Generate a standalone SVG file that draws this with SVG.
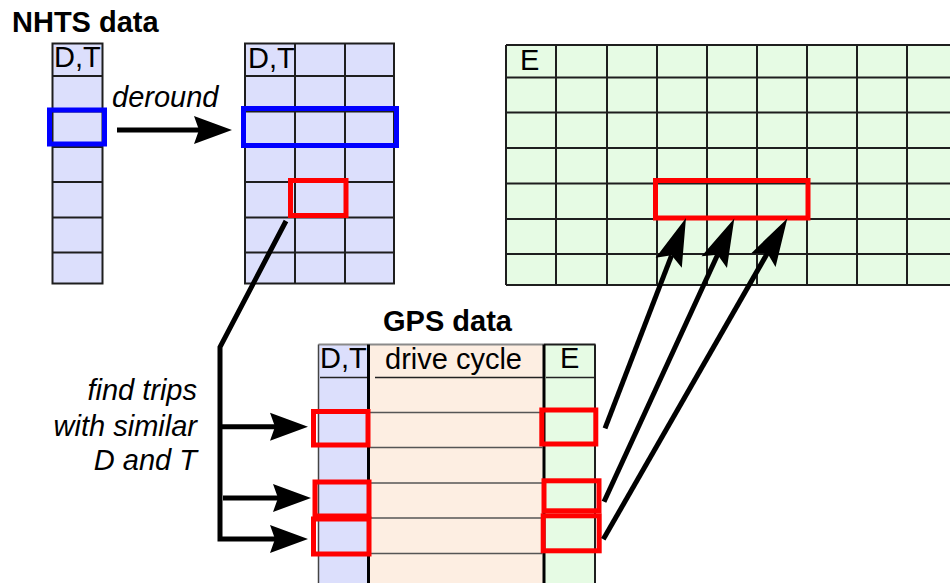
<svg xmlns="http://www.w3.org/2000/svg" width="950" height="583" viewBox="0 0 950 583">
<defs>
<style>
.t{font-family:"Liberation Sans",Arial,sans-serif;font-size:29px;fill:#000}
.b{font-weight:bold}
.i{font-style:italic}
.grid{stroke:#1e1e1e;stroke-width:2;fill:none}
.blue{fill:#dcdffc}
.green{fill:#e6fbe4}
.peach{fill:#fdeee2}
.hb{fill:none;stroke:#0000ff;stroke-width:5}
.hr{fill:none;stroke:#ff0000;stroke-width:5}
.conn{fill:none;stroke:#000;stroke-width:5}
.row{stroke:#555;stroke-width:1.5}
</style>
<marker id="ah" markerUnits="userSpaceOnUse" viewBox="0 -15 40 30" markerWidth="40" markerHeight="30" refX="5" refY="0" orient="auto" overflow="visible">
<path d="M0,-14 L38,0 L0,14 L5,0 Z" fill="#000"/>
</marker>
<marker id="ahl" markerUnits="userSpaceOnUse" viewBox="0 -15 50 30" markerWidth="50" markerHeight="30" refX="8" refY="0" orient="auto" overflow="visible">
<path d="M0,-14 L48,0 L0,14 L8,0 Z" fill="#000"/>
</marker>
</defs>
<rect width="950" height="583" fill="#fff"/>

<g id="nhts-title"><text class="t b" x="12" y="32">NHTS data</text></g>

<g id="nhts-column">
<rect class="blue" x="52.5" y="43.5" width="50" height="240"/>
<g class="grid">
<rect x="52.5" y="43.5" width="50" height="240"/>
<path d="M52.5,76H102.5M52.5,111.5H102.5M52.5,147H102.5M52.5,182H102.5M52.5,217.5H102.5M52.5,252.5H102.5"/>
</g>
<text class="t" x="54" y="67">D,T</text>
<rect class="hb" x="49.5" y="110" width="55" height="34"/>
</g>

<g id="nhts-derounded">
<rect class="blue" x="245" y="43.5" width="149" height="240"/>
<g class="grid">
<rect x="245" y="43.5" width="149" height="240"/>
<path d="M295,43.5V283.5M345,43.5V283.5"/>
<path d="M245,76H394M245,111.5H394M245,147H394M245,182H394M245,217.5H394M245,252.5H394"/>
</g>
<text class="t" x="248" y="68">D,T</text>
<rect class="hb" x="243.5" y="108.5" width="153" height="37"/>
<rect class="hr" x="290.5" y="180.5" width="55.5" height="35"/>
</g>

<g id="energy-grid">
<rect class="green" x="506" y="45" width="460" height="240"/>
<g class="grid">
<path d="M506,45H966M506,285H966M506,45V285"/>
<path d="M556,45V285M607,45V285M657,45V285M707,45V285M757,45V285M807,45V285M857,45V285M907,45V285"/>
<path d="M506,77.5H966M506,112.5H966M506,148H966M506,183.5H966M506,219H966M506,254H966"/>
</g>
<text class="t" x="520" y="70">E</text>
<rect class="hr" x="655.5" y="180.5" width="152.5" height="37.5"/>
</g>

<g id="gps-title"><text class="t b" x="383" y="331">GPS data</text></g>

<g id="gps-table">
<rect class="blue" x="318.5" y="344.5" width="50" height="240"/>
<rect class="peach" x="368.5" y="344.5" width="175.5" height="240"/>
<rect class="green" x="544" y="344.5" width="51" height="240"/>
<path d="M318.5,344.5H544" stroke="#8a8a8a" stroke-width="2"/>
<path d="M318.5,344.5V583" stroke="#444" stroke-width="1.5"/>
<path d="M544,344.5H595.5" stroke="#1e1e1e" stroke-width="2"/>
<path d="M368.5,344.5V583M544,344.5V583" stroke="#000" stroke-width="3"/>
<path d="M595,344.5V583" stroke="#1e1e1e" stroke-width="2"/>
<path d="M320,377.5H367M375,377.5H543M546,377.5H594" stroke="#222" stroke-width="1.5"/>
<path class="row" d="M370,412.5H543M370,447.5H543M370,483H543M370,518H543M370,553.5H543"/>
<text class="t" x="320" y="368">D,T</text>
<text class="t" x="385" y="369">drive cycle</text>
<text class="t" x="560" y="368">E</text>
<rect class="hr" x="313.5" y="411.5" width="54.5" height="33.5"/>
<rect class="hr" x="315" y="482" width="54" height="34"/>
<rect class="hr" x="313.5" y="519" width="55.5" height="35"/>
<rect class="hr" x="541.8" y="410" width="54" height="34"/>
<rect class="hr" x="544" y="480.8" width="55" height="30"/>
<rect class="hr" x="543.2" y="515.8" width="56" height="35"/>
</g>

<g id="find-label">
<text class="t i" text-anchor="end" x="197" y="400">find trips</text>
<text class="t i" text-anchor="end" x="197" y="436">with similar</text>
<text class="t i" text-anchor="end" x="197" y="470">D and T</text>
</g>

<g id="deround-label"><text class="t i" x="112" y="107">deround</text></g>

<g id="connectors">
<path class="conn" d="M117,130H199" marker-end="url(#ah)"/>
<path class="conn" d="M286,221L220,347V539H275" marker-end="url(#ah)"/>
<path class="conn" d="M220,426.7H275" marker-end="url(#ah)"/>
<path class="conn" d="M223,498H278" marker-end="url(#ah)"/>
<path class="conn" d="M605,428.3L671.6,255.3" marker-end="url(#ahl)"/>
<path class="conn" d="M604,501.7L717.6,254.8" marker-end="url(#ahl)"/>
<path class="conn" d="M603.3,539.3L767.4,253.2" marker-end="url(#ahl)"/>
</g>
</svg>
